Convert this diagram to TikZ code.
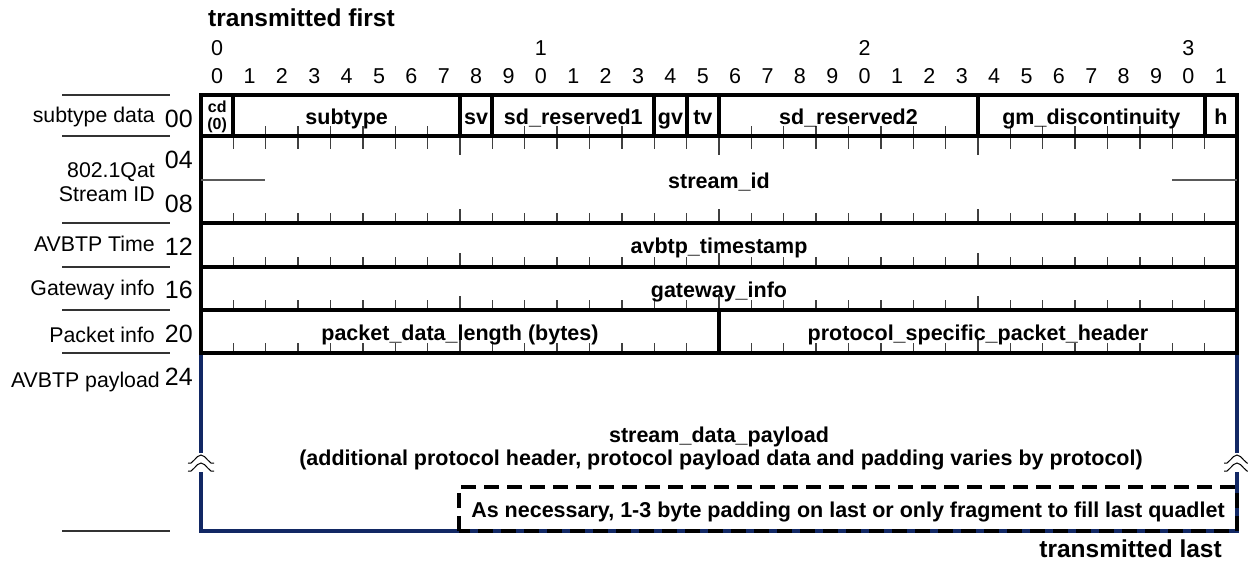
\documentclass[tikz,border=0pt]{standalone}
\usepackage{fontspec}
\setmainfont{Liberation Sans}
\usetikzlibrary{positioning}
\definecolor{paynavy}{RGB}{18,40,100}
\tikzset{
  frame/.style={line width=4pt},
  tk/.style={line width=1.3pt, draw=black!75},
  fld/.style={anchor=base, inner sep=0pt, font=\fontsize{21.5}{23}\selectfont\bfseries},
  lbl/.style={anchor=base east, inner sep=0pt, font=\fontsize{21.3}{23}\selectfont},
  off/.style={anchor=base east, inner sep=0pt, font=\fontsize{25}{27}\selectfont},
  bitnum/.style={anchor=base, inner sep=0pt, font=\fontsize{21.5}{23}\selectfont},
  sep/.style={line width=1.3pt, draw=black!80},
  brk/.style={line width=1pt},
}
\begin{document}
\begin{tikzpicture}[x=1pt,y=-1pt]
\useasboundingbox (0,0) rectangle (1248,562);
\coordinate (TL) at (201,95);
\coordinate (BR) at (1237,353);

\draw[line width=3.5pt, draw=paynavy] (201,353) -- (201,453) (201,472) -- (201,531) -- (1237,531) -- (1237,472) (1237,453) -- (1237,353);
\draw[line width=3.5pt, dash pattern=on 15pt off 8pt] (459,531) -- (459,487) -- (1237,487) -- (1237,531) -- cycle;
\foreach \bx in {201,1237}{
  \draw[brk] (\bx-13,463) .. controls (\bx-9,466) and (\bx-5,455) .. (\bx,455) .. controls (\bx+5,455) and (\bx+9,466) .. (\bx+13,463);
  \draw[brk] (\bx-13,471) .. controls (\bx-9,474) and (\bx-5,463) .. (\bx,463) .. controls (\bx+5,463) and (\bx+9,474) .. (\bx+13,471);
}

\foreach \b in {1,...,31}{
  \foreach \y in {136,223,267,310,353} \draw[tk] ({201+32.375*\b},\y) -- ++(0,-10);
  \draw[tk] ({201+32.375*\b},136) -- ++(0,13);
}
\foreach \b in {8,16,24}{
  \foreach \y in {136,223,267,310,353} \draw[tk] ({201+32.375*\b},\y) -- ++(0,-14);
  \draw[tk] ({201+32.375*\b},136) -- ++(0,19);
}

\draw[frame] (TL) rectangle (BR);
\foreach \y in {136,223,267,310} \draw[frame] (201,\y) -- (1237,\y);
\foreach \b in {1,8,9,14,15,16,24,31} \draw[frame] ({201+32.375*\b},95) -- ({201+32.375*\b},136);
\draw[frame] ({201+32.375*16},310) -- ({201+32.375*16},353);
\draw[line width=1.8pt, draw=black!65] (201,180) -- (265,180) (1172,180) -- (1237,180);

\foreach \y in {95,136,223,267,310,353,531} \draw[sep] (62,\y) -- (170,\y);

\node[anchor=base west, inner sep=0pt, font=\fontsize{24.5}{26}\selectfont\bfseries] (first) at (208,27) {transmitted first};
\node[anchor=base east, inner sep=0pt, font=\fontsize{24.5}{26}\selectfont\bfseries] (last) at (1222,557) {transmitted last};
\foreach \t in {0,1,2,3} \node[bitnum] (ten\t) at ({201+32.375*(10*\t+0.5)},55) {\t};
\foreach \b in {0,...,31}{
  \pgfmathtruncatemacro\u{mod(\b,10)}
  \node[bitnum] (bit\b) at ({201+32.375*(\b+0.5)},83) {\u};
}

\node[align=center, inner sep=0pt, font=\fontsize{16}{17}\selectfont\bfseries] (cd) at ({201+32.375*0.5},117) {cd\\(0)};
\node[fld] (subtype) at ({201+32.375*4.5},124.5) {subtype};
\node[fld] (sv) at ({201+32.375*8.5},124.5) {sv};
\node[fld] (sdres1) at ({201+32.375*11.5},124.5) {sd\_reserved1};
\node[fld] (gv) at ({201+32.375*14.5},124.5) {gv};
\node[fld] (tv) at ({201+32.375*15.5},124.5) {tv};
\node[fld] (sdres2) at ({201+32.375*20},124.5) {sd\_reserved2};
\node[fld] (gmdisc) at ({201+32.375*27.5},124.5) {gm\_discontinuity};
\node[fld] (hbit) at ({201+32.375*31.5},124.5) {h};
\node[fld] (streamid) at (719,188) {stream\_id};
\node[fld] (avtime) at (719,253) {avbtp\_timestamp};
\node[fld] (gwinfo) at (719,297) {gateway\_info};
\node[fld] (pktlen) at ({201+32.375*8},340) {packet\_data\_length (bytes)};
\node[fld] (pshdr) at ({201+32.375*24},340) {protocol\_specific\_packet\_header};
\node[fld] (payload) at (719,442) {stream\_data\_payload};
\node[fld] (paydesc) at (721,465) {(additional protocol header, protocol payload data and padding varies by protocol)};
\node[fld] (padtxt) at (848,517) {As necessary, 1-3 byte padding on last or only fragment to fill last quadlet};

\node[lbl] (l00) at (155,122) {subtype data};
\node[off] (o00) at (193,127) {00};
\node[lbl] (lqat) at (155,177) {802.1Qat};
\node[lbl] (lsid) at (155,201) {Stream ID};
\node[off] (o04) at (193,168) {04};
\node[off] (o08) at (193,212) {08};
\node[lbl] (ltime) at (155,251) {AVBTP Time};
\node[off] (o12) at (193,255) {12};
\node[lbl] (lgw) at (155,295) {Gateway info};
\node[off] (o16) at (193,298) {16};
\node[lbl] (lpkt) at (155,342) {Packet info};
\node[off] (o20) at (193,342) {20};
\node[lbl] (lpay) at (160,387) {AVBTP payload};
\node[off] (o24) at (193,385) {24};
\end{tikzpicture}
\end{document}
